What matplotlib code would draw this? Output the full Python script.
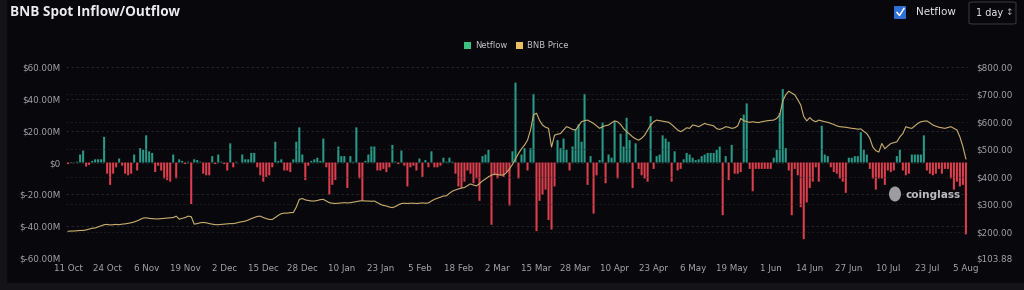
import matplotlib
matplotlib.use('Agg')
import matplotlib.pyplot as plt
import numpy as np
from matplotlib.patches import FancyBboxPatch, Rectangle, Ellipse
from matplotlib.lines import Line2D

# ---------------- data ----------------
tick_labels = ["11 Oct", "24 Oct", "6 Nov", "19 Nov", "2 Dec", "15 Dec", "28 Dec", "10 Jan",
               "23 Jan", "5 Feb", "18 Feb", "2 Mar", "15 Mar", "28 Mar", "10 Apr", "23 Apr",
               "6 May", "19 May", "1 Jun", "14 Jun", "27 Jun", "10 Jul", "23 Jul", "5 Aug"]

# daily netflow, $M (11 Oct 2023 .. 5 Aug 2024)
netflow_oct_jan = [-1, 0.3, 0.2, 0.5, 5, 7.5, -2.5, -1.5, 1, 2,
                   2, 2, 16, -7, -14, -7, -3, 2.5, -2, -7,
                   -8, -7, 5, -5, 9, 8, 17, 7, 6, -6,
                   -2, -5, -10, -11, -12, 5, -10, 2, 1, -1,
                   0.5, -26, 2, 1.5, 0.5, -7, -8, -8, 4, -1,
                   5, 0.5, -1, -5, 12, -3, 0.5, 0, 5, 2,
                   2, 6, 6, -3, -8, -12, -9, -8, -3, 13,
                   1, 2, -5, -5, -6, 2, 13, 22, 5, -11,
                   -2, 1, 2, 3, 1, 15, -3, -20, -14, -11,
                   10, 4, 4, -16, 4, 0.5, 22, -10, -24, 1,
                   5, 10, 10, -5, -5, -4, -6]
netflow_jan_mar = [-3, 11, 0.5, -1, 7.5, -2, -15, -3, -2, -5, 2.5,
                   -9, 1.5, -3, 7, -3, -3, -2, 3, 0.5, 3, 0.5,
                   -7, -15, -16, -12, -5, -7, -13, -10, -24, 4,
                   5, 8, -39, -8, -10, -8, -9, -6, -27, 7, 50]
netflow_mar_may = [-10, 5, 9, -5, 9, 43, -43, -24, -20, -17,
                   -36, -42, -15, 14, 9, 15, 8, -5, 10, 21,
                   24, 13, 43, -14, 4, -32, -8, 1.5, 25, -13,
                   5, 3, 26, -10, 18, 10, 28, 14, -16, 12,
                   -4, -8, -10, -12, 29, -4, 4, 5, 17, 15,
                   13, -12, 7, -5, -4, 2, 6, 5, 3, 1.5,
                   2, 4, 5, 6, 6]
netflow_may_aug = [6, 8, 10, -33, 4, -11, 11, -7, -7, -6,
                   30, 37, -4, -18, -4, -4, -4, -4, -4, -4,
                   3, 8, 31, 46, 9, -5, -33, -4, -8, -28,
                   -48, -25, -16, -12, -3, -12, 23, 5, 4, -3,
                   -6, -7, -10, -12, -19, 3, 3, 4, 4, 19,
                   8, 5, -4, -10, -17, -10, -10, -14, -5, -6,
                   -5, 4, 8, -5, -8, -7, 5, 5, 5, 5,
                   17, -5, -7, -8, -7, -4, -7, -4, -4, -10,
                   -17, -12, -15, -14, -45]

# daily BNB price, $
bnb_price = [202, 203, 203, 204, 205, 205, 207, 210, 213, 214,
             218, 222, 226, 227, 225, 226, 227, 226, 228, 229,
             231, 233, 236, 240, 245, 250, 251, 249, 248, 247,
             247, 248, 249, 250, 251, 252, 257, 246, 249, 252,
             257, 255, 228, 230, 233, 234, 233, 230, 228, 226,
             226, 227, 228, 229, 230, 230, 232, 235, 237, 239,
             243, 248, 252, 256, 257, 252, 248, 245, 245, 252,
             260, 266, 268, 268, 270, 270, 290, 318, 321, 316,
             314, 312, 312, 314, 317, 318, 312, 306, 304, 303,
             304, 305, 306, 305, 306, 308, 310, 312, 313, 312,
             312, 311, 312, 306, 300, 296, 294, 290, 288, 292,
             298, 303, 304, 303, 304, 304, 303, 304, 305, 304,
             305, 312, 318, 322, 326, 330, 331, 340, 348, 352,
             356, 359, 361, 368, 374, 370, 367, 375, 385, 392,
             400, 406, 410, 408, 406, 407, 415, 429, 445, 465,
             485, 502, 515, 533, 570, 625, 631, 605, 588, 580,
             576, 508, 551, 555, 557, 570, 582, 578, 572, 570,
             585, 600, 604, 606, 600, 594, 585, 576, 582, 586,
             588, 596, 603, 600, 590, 575, 564, 555, 545, 538,
             533, 540, 551, 570, 588, 600, 606, 604, 602, 600,
             598, 590, 580, 570, 564, 570, 578, 576, 588, 586,
             582, 588, 594, 590, 588, 585, 575, 572, 576, 582,
             580, 576, 578, 585, 612, 604, 600, 598, 600, 598,
             597, 600, 602, 604, 605, 606, 612, 625, 675, 698,
             711, 704, 698, 680, 661, 619, 603, 615, 605, 600,
             606, 603, 600, 598, 594, 590, 585, 582, 581, 580,
             578, 576, 575, 573, 574, 565, 557, 540, 508, 495,
             490, 521, 502, 512, 521, 524, 527, 545, 557, 582,
             578, 576, 585, 594, 600, 602, 603, 596, 588, 584,
             580, 578, 576, 579, 582, 576, 570, 545, 510, 465]

left_ticks = [-60, -40, -20, 0, 20, 40, 60]
right_ticks = [103.88, 200, 300, 400, 500, 600, 700, 800]

netflow = np.array(netflow_oct_jan + netflow_jan_mar + netflow_mar_may + netflow_may_aug, dtype=float)
price = np.array(bnb_price, dtype=float)
x = np.arange(len(netflow))
xp = np.arange(len(price))

# ---------------- style ----------------
BG = '#08080c'
GREEN = '#2a9a88'
RED = '#de3f4d'
GOLD = '#c9ad6e'
GRID = '#2a2a31'
TXT = '#a4a4aa'

W, H = 1024, 290
fig = plt.figure(figsize=(W / 100, H / 100), dpi=100)
fig.patch.set_facecolor(BG)

def fx(px):
    return px / W

def fy(py):
    return 1 - py / H

# frame strips
fig.add_artist(Rectangle((0, 0), 1, fy(283), transform=fig.transFigure, color='#131318', zorder=0))
fig.add_artist(Rectangle((0, 0), fx(6), 1, transform=fig.transFigure, color='#131318', zorder=0))

ax = fig.add_axes([fx(66), fy(258.3), fx(968 - 66), (258.3 - 66.7) / H])
ax.set_facecolor('none')
ax2 = ax.twinx()

colors = np.where(netflow >= 0, GREEN, RED)
bars = ax.bar(x, netflow, width=0.68, color=colors, linewidth=0, zorder=3)
for b in bars:
    b.set_snap(False)
ax.set_xlim(-0.7, len(netflow) - 0.3)
ax.set_ylim(-60, 60)

for t in left_ticks:
    ax.axhline(t, color=GRID, lw=0.6, ls=(0, (3, 3)), zorder=1)
ax.set_yticks(left_ticks)
ax.set_yticklabels([("$0" if t == 0 else f"${t:.2f}M") for t in left_ticks])

ax2.plot(xp, price, color=GOLD, lw=0.8, zorder=4)
ax2.set_ylim(103.88, 800)
for t in right_ticks[1:-1]:
    ax2.axhline(t, color=GRID, lw=0.5, ls=(0, (3, 3)), zorder=0, alpha=0.8)
ax2.set_yticks(right_ticks)
ax2.set_yticklabels([f"${t:.2f}" for t in right_ticks])

ax.set_xticks(np.arange(0, len(netflow), 13)[:len(tick_labels)])
ax.set_xticklabels(tick_labels)

for a in (ax, ax2):
    for s in a.spines.values():
        s.set_visible(False)
    a.tick_params(length=0, colors=TXT, labelsize=6.3)
ax.tick_params(axis='y', pad=4)
ax2.tick_params(axis='y', pad=6)
ax.tick_params(axis='x', pad=4)

# ---------------- header ----------------
fig.text(fx(10), fy(12), 'BNB Spot Inflow/Outflow', fontsize=9.8, weight='bold',
         color='#ececee', va='center', ha='left', family='Open Sans')

# checkbox
fig.add_artist(FancyBboxPatch((fx(894), fy(19)), fx(12), 13 / H, boxstyle='round,pad=0,rounding_size=0.002',
                              transform=fig.transFigure, facecolor='#2f6fd8', edgecolor='none'))
fig.add_artist(Line2D([fx(897), fx(899.5), fx(904)], [fy(12.5), fy(15.5), fy(8.5)],
                      transform=fig.transFigure, color='white', lw=1.1))
fig.text(fx(916), fy(12), 'Netflow', fontsize=7.5, color='#e6e6e8', va='center', ha='left')

# interval selector
fig.add_artist(FancyBboxPatch((fx(969), fy(24)), fx(47), 22 / H, boxstyle='round,pad=0,rounding_size=0.004',
                              transform=fig.transFigure, facecolor='none', edgecolor='#34343a', lw=0.8))
fig.text(fx(976), fy(12.5), '1 day', fontsize=7, color='#e6e6e8', va='center', ha='left')
fig.text(fx(1005), fy(12.5), '\u2195', fontsize=6.5, color='#b0b0b4', va='center', ha='left')

# legend
fig.add_artist(Rectangle((fx(464), fy(48.5)), fx(7), 7 / H, transform=fig.transFigure,
                         facecolor='#3cc07f', edgecolor='none'))
fig.text(fx(475), fy(45), 'Netflow', fontsize=6, color='#c4c4c8', va='center', ha='left')
fig.add_artist(Rectangle((fx(516), fy(48.5)), fx(7), 7 / H, transform=fig.transFigure,
                         facecolor='#e9bd62', edgecolor='none'))
fig.text(fx(527), fy(45), 'BNB Price', fontsize=6, color='#c4c4c8', va='center', ha='left')

# watermark
fig.add_artist(Ellipse((fx(895), fy(194)), fx(12), 15 / H, transform=fig.transFigure,
                       facecolor='#b8b8bc', edgecolor='none', alpha=0.85, zorder=6))
fig.text(fx(905), fy(195), 'coinglass', fontsize=7.6, weight='bold', color='#d0d0d4',
         va='center', ha='left', alpha=0.9, zorder=6)

fig.savefig('out.png', dpi=100, facecolor=BG)
